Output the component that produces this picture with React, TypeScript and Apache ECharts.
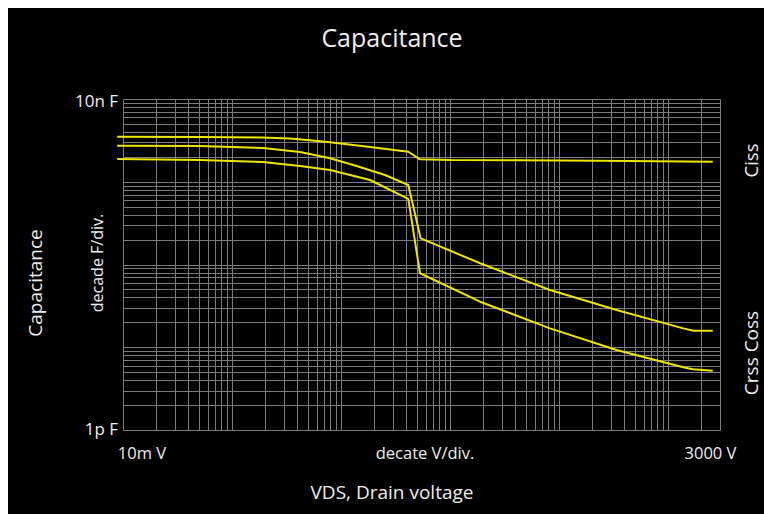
import React, { useEffect, useRef } from 'react';
import * as echarts from 'echarts';

// ---- data (V in volts, C in pF) ----
const cissVolts = [0.0089, 0.051, 0.182, 0.343, 0.522, 0.798, 1.86, 4.17, 5.34, 10.1, 239, 2590];
const cissPF = [3500, 3480, 3430, 3335, 3177, 3000, 2630, 2306, 1866, 1833, 1795, 1747];

const cossVolts = [0.0089, 0.051, 0.194, 0.424, 0.798, 1.4, 2.55, 4.17, 5.42, 19.0, 83.2, 340, 1390, 1718, 2590];
const cossPF = [2730, 2705, 2560, 2290, 1920, 1550, 1208, 914, 207, 103.5, 49.2, 28.2, 16.9, 15.8, 15.8];

const crssVolts = [0.0089, 0.051, 0.194, 0.424, 0.798, 1.86, 4.17, 5.34, 19.0, 83.2, 340, 1390, 1706, 2590];
const crssPF = [1884, 1833, 1734, 1550, 1387, 1050, 620, 78.4, 35.5, 16.9, 9.27, 5.73, 5.41, 5.21];

// ---- grid / tick definitions ----
const gridMultipliers = [1, 2, 3, 4, 5, 6, 7, 8, 9];
const voltDecades = [0.01, 0.1, 1, 10, 100, 1000];
const voltMin = 0.01;
const voltMax = 3000;
const capDecadesPF = [1, 10, 100, 1000];
const capMinPF = 1;
const capMaxPF = 10000;
const axisStartVolts = 0.0089;

const yLabelTop = '10n F';
const yLabelBottom = '1p F';
const xLabelLeft = '10m V';
const xLabelMid = 'decate V/div.';
const xLabelRight = '3000 V';

const L = Math.log10;

export default function App() {
  const ref = useRef<HTMLDivElement>(null);

  useEffect(() => {
    const chart = echarts.init(ref.current!, null, { renderer: 'svg' });

    const xGrid: number[] = [];
    voltDecades.forEach((d) => gridMultipliers.forEach((m) => {
      const v = d * m;
      if (v <= voltMax * 1.0001) xGrid.push(v);
    }));
    if (!xGrid.some((v) => Math.abs(v - voltMax) < 1e-6)) xGrid.push(voltMax);
    const yGrid: number[] = [];
    capDecadesPF.forEach((d) => gridMultipliers.forEach((m) => yGrid.push(d * m)));
    yGrid.push(capMaxPF);

    const segs: number[][] = [];
    xGrid.forEach((v) => segs.push([L(v), L(capMinPF), L(v), L(capMaxPF)]));
    yGrid.forEach((c) => segs.push([L(voltMin), L(c), L(voltMax), L(c)]));

    const mk = (vs: number[], cs: number[]) => vs.map((v, i) => [L(v), L(cs[i])]);
    const lineStyle = { color: '#ece600', width: 2 };
    const textColor = '#eeeeee';
    const font = '"Open Sans", "Noto Sans", sans-serif';

    const T = (text: string, x: number, y: number, size: number, align = 'center', rot = 0) => ({
      type: 'text',
      x,
      y,
      rotation: rot,
      style: {
        text,
        fill: textColor,
        font: `${size}px ${font}`,
        textAlign: align,
        textVerticalAlign: 'middle',
      },
    });

    chart.setOption({
      animation: false,
      backgroundColor: '#000000',
      grid: { left: 109.2, right: 44.3, top: 91, bottom: 84 },
      xAxis: { type: 'value', min: L(axisStartVolts), max: L(voltMax), show: false },
      yAxis: { type: 'value', min: L(capMinPF), max: L(capMaxPF), show: false },
      graphic: [
        T('Capacitance', 384, 29, 25),
        T(yLabelTop, 110, 92, 17, 'right'),
        T(yLabelBottom, 110, 420, 17, 'right'),
        T(xLabelLeft, 134, 444, 16.5),
        T(xLabelMid, 417, 444, 16.5),
        T(xLabelRight, 702.5, 444, 16.5),
        T('VDS, Drain voltage', 384, 484, 19),
        T('Capacitance', 26.5, 275, 19, 'center', Math.PI / 2),
        T('decade F/div.', 88.7, 255, 16, 'center', Math.PI / 2),
        T('Ciss', 742, 152.5, 18.5, 'center', Math.PI / 2),
        T('Crss Coss', 742.5, 345, 19, 'center', Math.PI / 2),
      ],
      series: [
        {
          type: 'custom',
          silent: true,
          clip: false,
          z: 1,
          data: segs,
          renderItem: (_p: any, api: any) => {
            const a = api.coord([api.value(0), api.value(1)]);
            const b = api.coord([api.value(2), api.value(3)]);
            return {
              type: 'line',
              shape: { x1: Math.round(a[0]) + 0.5, y1: Math.round(a[1]) + 0.5, x2: Math.round(b[0]) + 0.5, y2: Math.round(b[1]) + 0.5 },
              style: { stroke: '#7c7c7c', lineWidth: 1 },
            };
          },
        },
        { name: 'Ciss', type: 'line', z: 5, showSymbol: false, silent: true, data: mk(cissVolts, cissPF), lineStyle },
        { name: 'Coss', type: 'line', z: 5, showSymbol: false, silent: true, data: mk(cossVolts, cossPF), lineStyle },
        { name: 'Crss', type: 'line', z: 5, showSymbol: false, silent: true, data: mk(crssVolts, crssPF), lineStyle },
      ],
    });
    return () => chart.dispose();
  }, []);

  return <div ref={ref} style={{ position: 'fixed', left: 8, top: 8, width: 756, height: 506 }} />;
}
